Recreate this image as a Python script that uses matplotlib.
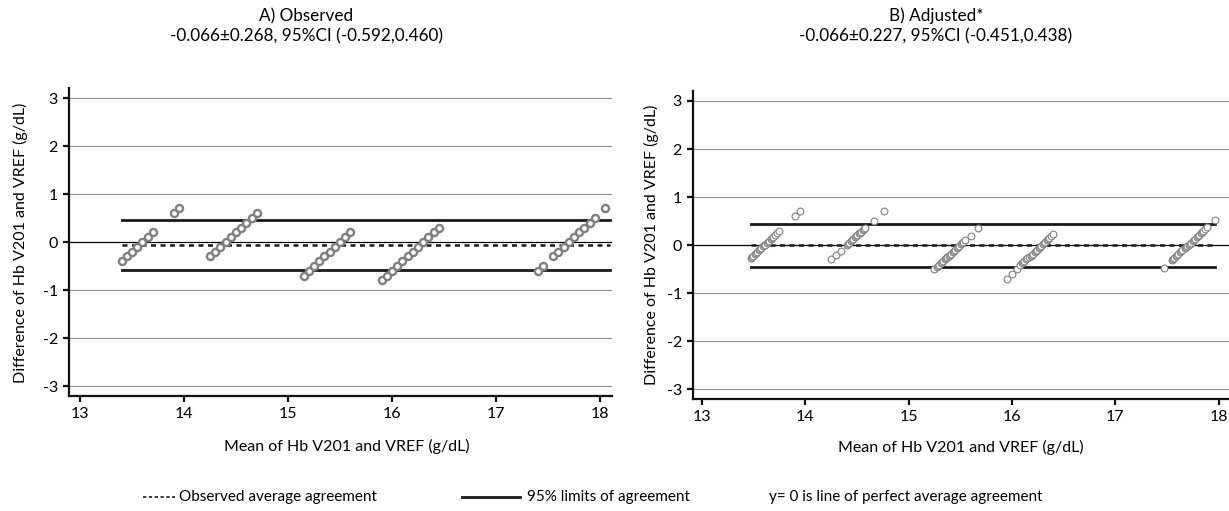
import matplotlib
matplotlib.use("Agg")
import matplotlib.pyplot as plt
from matplotlib.lines import Line2D

plt.rcParams['font.family'] = ['Lato', 'DejaVu Sans']
plt.rcParams['axes.unicode_minus'] = False

# ---------------- data ----------------
obs_x = [13.40, 13.45, 13.50, 13.55, 13.60, 13.65, 13.70,
         13.90, 13.95,
         14.25, 14.30, 14.35, 14.40, 14.45, 14.50, 14.55, 14.60, 14.65, 14.70,
         15.15, 15.20, 15.25, 15.30, 15.35, 15.40, 15.45, 15.50, 15.55, 15.60,
         15.90, 15.95, 16.00, 16.05, 16.10, 16.15, 16.20, 16.25, 16.30, 16.35, 16.40, 16.45,
         17.40, 17.45,
         17.55, 17.60, 17.65, 17.70, 17.75, 17.80, 17.85, 17.90, 17.95,
         18.05]
obs_y = [-0.4, -0.3, -0.2, -0.1, 0.0, 0.1, 0.2,
         0.6, 0.7,
         -0.3, -0.2, -0.1, 0.0, 0.1, 0.2, 0.3, 0.4, 0.5, 0.6,
         -0.7, -0.6, -0.5, -0.4, -0.3, -0.2, -0.1, 0.0, 0.1, 0.2,
         -0.8, -0.7, -0.6, -0.5, -0.4, -0.3, -0.2, -0.1, 0.0, 0.1, 0.2, 0.3,
         -0.6, -0.5,
         -0.3, -0.2, -0.1, 0.0, 0.1, 0.2, 0.3, 0.4, 0.5,
         0.7]

adj_x = [13.47, 13.48, 13.49, 13.51, 13.52, 13.53, 13.55, 13.56, 13.57, 13.59,
         13.60, 13.61, 13.63, 13.64, 13.65, 13.67, 13.68, 13.69, 13.71, 13.73, 13.75,
         13.90, 13.95,
         14.25, 14.30, 14.35,
         14.40, 14.41, 14.42, 14.44, 14.45, 14.46, 14.48, 14.49, 14.50, 14.52,
         14.53, 14.54, 14.56, 14.57, 14.58,
         14.66, 14.76,
         15.25, 15.27, 15.28, 15.29, 15.31, 15.32, 15.33, 15.35, 15.36, 15.37,
         15.39, 15.40, 15.41, 15.43, 15.44, 15.45, 15.47, 15.48, 15.49, 15.51,
         15.52, 15.53, 15.55,
         15.60, 15.67,
         15.95, 16.00, 16.05,
         16.08, 16.10, 16.11, 16.12, 16.14, 16.15, 16.16, 16.18, 16.19, 16.20,
         16.22, 16.23, 16.24, 16.26, 16.27, 16.28, 16.30, 16.31, 16.32, 16.34,
         16.35, 16.36, 16.38, 16.40,
         17.47,
         17.55, 17.56, 17.57, 17.59, 17.60, 17.61, 17.63, 17.64, 17.65, 17.67,
         17.68, 17.69, 17.71, 17.72, 17.73, 17.75, 17.76, 17.77, 17.79, 17.80,
         17.81, 17.83, 17.84, 17.85, 17.87, 17.89,
         17.96]
adj_y = [-0.27, -0.25, -0.23, -0.19, -0.17, -0.15, -0.11, -0.09, -0.07, -0.03,
         -0.01, 0.01, 0.05, 0.07, 0.09, 0.13, 0.15, 0.17, 0.21, 0.25, 0.29,
         0.60, 0.71,
         -0.30, -0.21, -0.12,
         0.00, 0.02, 0.04, 0.08, 0.10, 0.12, 0.16, 0.18, 0.20, 0.24,
         0.26, 0.28, 0.32, 0.34, 0.36,
         0.50, 0.71,
         -0.50, -0.46, -0.44, -0.42, -0.38, -0.36, -0.34, -0.30, -0.28, -0.26,
         -0.22, -0.20, -0.18, -0.14, -0.12, -0.10, -0.06, -0.04, -0.02, 0.02,
         0.04, 0.06, 0.10,
         0.19, 0.35,
         -0.71, -0.60, -0.50,
         -0.42, -0.38, -0.36, -0.34, -0.30, -0.28, -0.26, -0.22, -0.20, -0.18,
         -0.14, -0.12, -0.10, -0.06, -0.04, -0.02, 0.02, 0.04, 0.06, 0.10,
         0.12, 0.14, 0.18, 0.22,
         -0.48,
         -0.31, -0.29, -0.27, -0.23, -0.21, -0.19, -0.15, -0.13, -0.11, -0.07,
         -0.05, -0.03, 0.01, 0.03, 0.05, 0.09, 0.11, 0.13, 0.17, 0.19,
         0.21, 0.25, 0.27, 0.29, 0.33, 0.37,
         0.52]

obs_mean, obs_lo, obs_hi = -0.066, -0.592, 0.460
adj_mean, adj_lo, adj_hi = 0.0, -0.451, 0.438

titles = ["A) Observed\n-0.066\u00b10.268, 95%CI (-0.592,0.460)",
          "B) Adjusted*\n-0.066\u00b10.227, 95%CI (-0.451,0.438)"]
xlabel = "Mean of Hb V201 and VREF (g/dL)"
ylabel = "Difference of Hb V201 and VREF (g/dL)"
xticks = [13, 14, 15, 16, 17, 18]
yticks = [-3, -2, -1, 0, 1, 2, 3]
legend_labels = ["Observed average agreement", "95% limits of agreement",
                 "y= 0 is line of perfect average agreement"]

# ---------------- figure ----------------
W, H = 1229, 511
fig = plt.figure(figsize=(W / 100, H / 100), dpi=100)

def px(x0, y0, x1, y1):
    return [x0 / W, 1 - y1 / H, (x1 - x0) / W, (y1 - y0) / H]

axL = fig.add_axes(px(69, 88.4, 612, 395.6))
axR = fig.add_axes(px(693, 91.4, 1229, 398.6))

def style(ax, xlim):
    ax.set_xlim(*xlim)
    ax.set_ylim(-3.2, 3.2)
    for s in ['top', 'right']:
        ax.spines[s].set_visible(False)
    for s in ['left', 'bottom']:
        ax.spines[s].set_linewidth(1.6)
        ax.spines[s].set_color('#111111')
    ax.set_xticks(xticks)
    ax.set_yticks(yticks)
    ax.tick_params(direction='out', length=4, width=1.6, labelsize=11.5,
                   color='#111111', pad=4)
    for v in yticks:
        if v == 0:
            ax.axhline(0, color='black', lw=0.9, zorder=1)
        else:
            ax.axhline(v, color='#999999', lw=0.9, zorder=1)

style(axL, (12.894, 18.115))
style(axR, (12.913, 18.10))

# Left panel
axL.scatter(obs_x, obs_y, s=26, facecolors='white', edgecolors='#808080',
            linewidths=1.7, zorder=3)
xmin, xmax = min(obs_x), max(obs_x)
axL.plot([xmin, xmax + 0.05], [obs_hi, obs_hi], color='#1a1a1a', lw=2.0, zorder=2)
axL.plot([xmin, xmax + 0.05], [obs_lo, obs_lo], color='#1a1a1a', lw=2.0, zorder=2)
axL.plot([xmin, xmax + 0.05], [obs_mean, obs_mean], color='#1a1a1a', lw=1.8,
         ls=(0, (2.0, 1.8)), zorder=2)

# Right panel
axR.scatter(adj_x, adj_y, s=24, facecolors='white', edgecolors='#808080',
            linewidths=0.8, zorder=3)
xmin, xmax = min(adj_x), max(adj_x)
axR.plot([xmin, xmax], [adj_hi, adj_hi], color='#1a1a1a', lw=2.0, zorder=2)
axR.plot([xmin, xmax], [adj_lo, adj_lo], color='#1a1a1a', lw=2.0, zorder=2)
axR.plot([xmin, xmax], [adj_mean, adj_mean], color='#1a1a1a', lw=1.8,
         ls=(0, (2.0, 1.8)), zorder=2)

# Titles and labels
fig.text(306 / W, 1 - 26 / H, titles[0], ha='center', va='center',
         fontsize=12.3, linespacing=1.3)
fig.text(936 / W, 1 - 26 / H, titles[1], ha='center', va='center',
         fontsize=12.3, linespacing=1.3)
fig.text(347 / W, 1 - 446 / H, xlabel, ha='center', va='center', fontsize=11.5)
fig.text(961 / W, 1 - 447 / H, xlabel, ha='center', va='center', fontsize=11.5)
fig.text(20 / W, 1 - 243 / H, ylabel, ha='center', va='center', fontsize=11.5,
         rotation=90)
fig.text(651 / W, 1 - 245 / H, ylabel, ha='center', va='center', fontsize=11.5,
         rotation=90)

# Legend at the bottom
ly = 1 - 497 / H
fig.add_artist(Line2D([143 / W, 175 / W], [ly, ly], color='#1a1a1a', lw=1.2,
                      ls=(0, (2, 1.5))))
fig.text(179 / W, ly, legend_labels[0], ha='left', va='center', fontsize=11)
fig.add_artist(Line2D([462 / W, 520 / W], [ly, ly], color='#1a1a1a', lw=2.0))
fig.text(527 / W, ly, legend_labels[1], ha='left', va='center', fontsize=11)
fig.text(769 / W, ly, legend_labels[2], ha='left', va='center', fontsize=11)

fig.savefig("out.png", dpi=100)
